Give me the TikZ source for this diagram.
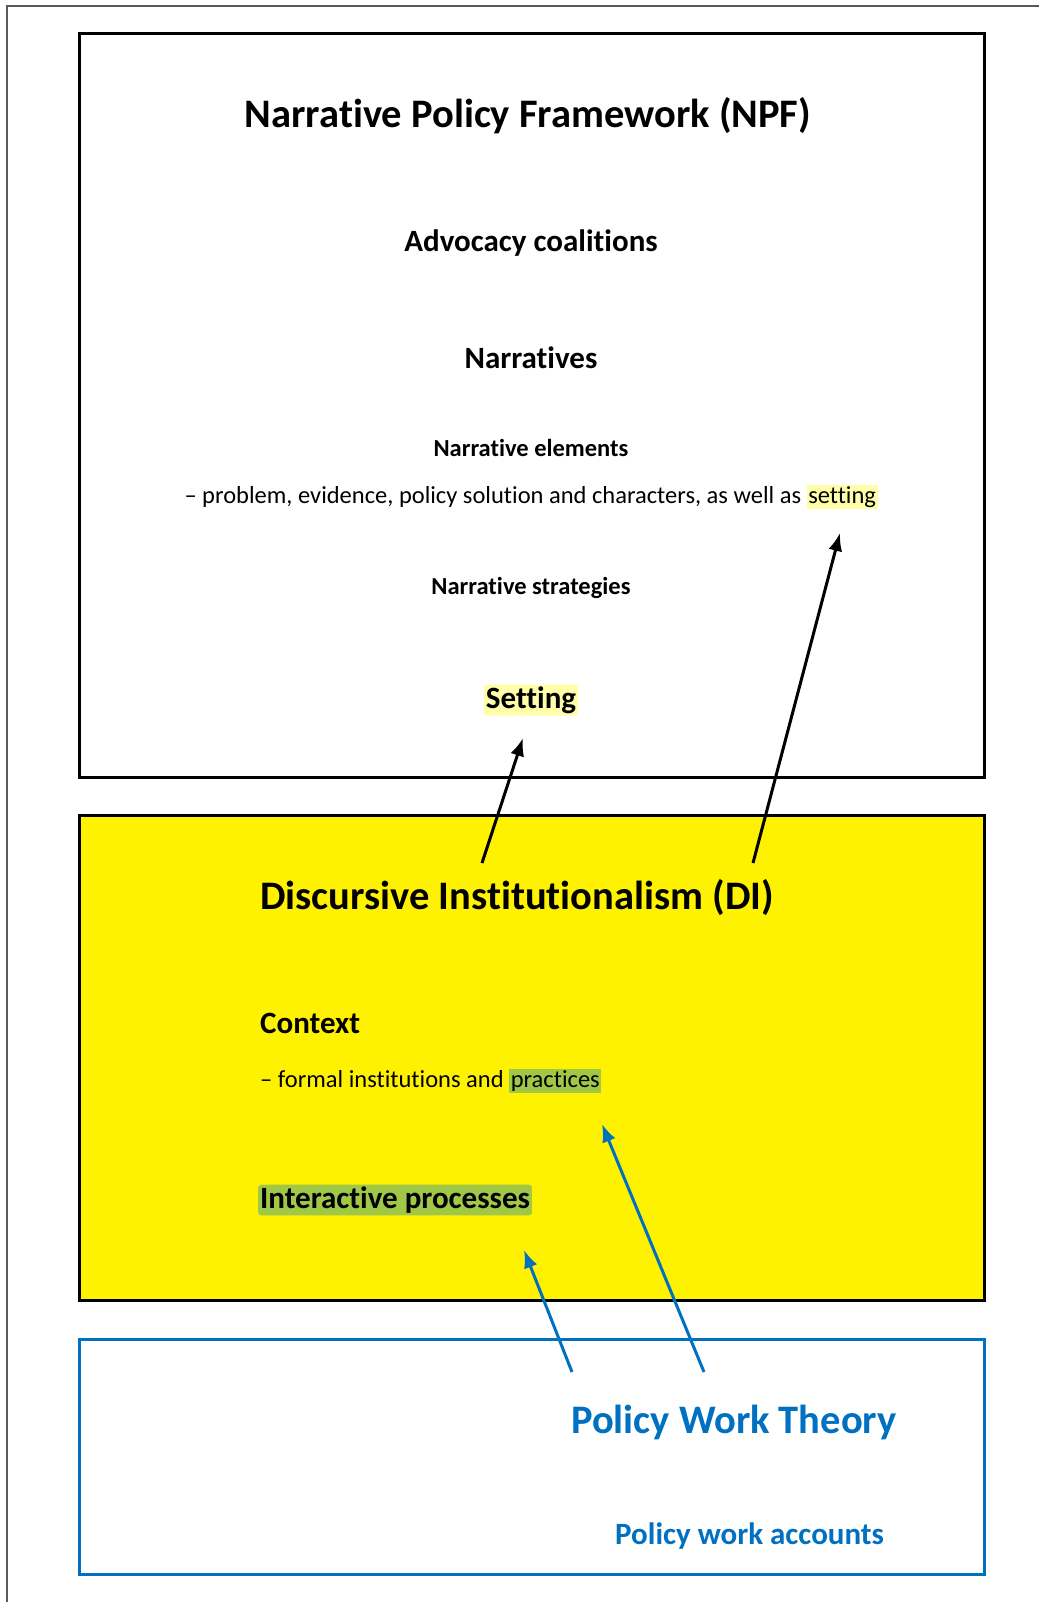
\documentclass[tikz,border=0pt]{standalone}
\usepackage{fontspec}
\setmainfont[Ligatures=NoCommon]{Carlito}
\usetikzlibrary{calc,arrows.meta}
\definecolor{pwblue}{RGB}{0,112,192}
\definecolor{glowyellow}{RGB}{255,255,170}
\definecolor{glowgreen}{RGB}{160,200,70}
\newcommand{\hlword}[2]{{\setlength{\fboxsep}{1.5pt}\colorbox{#1}{#2}}}
\newcommand{\fbig}{\fontsize{40.5}{48}\selectfont\bfseries}
\newcommand{\fmid}{\fontsize{31}{37}\selectfont\bfseries}
\newcommand{\fsml}{\fontsize{24.5}{29}\selectfont}

\begin{document}
\begin{tikzpicture}[x=1pt,y=-1pt,inner sep=0pt]
\useasboundingbox (0,0) rectangle (1039,1602);
\draw[black!65, line width=1.5pt] (7,1602) -- (7,6) -- (1039,6);

% the three boxes
\draw[line width=3pt] (79,34) rectangle (984,777);
\draw[line width=3pt, fill=yellow] (79,815) rectangle (984,1300);
\draw[line width=3pt, draw=pwblue] (79,1339) rectangle (984,1574);

% NPF
\node (npf) at (528,116) {\fbig Narrative Policy Framework (NPF)};
\node (adv) at (531,243) {\fmid Advocacy coalitions};
\node (nar) at (531,358) {\fmid Narratives};
\node (elem) at (531,448) {\fsml\bfseries Narrative elements};
\node (prob) at (531,497) {\fsml -- problem, evidence, policy solution and characters, as well as \hlword{glowyellow}{setting}};
\node (strat) at (531,588) {\fsml\bfseries Narrative strategies};
\node[fill=glowyellow, inner sep=2pt, rounded corners=3pt] (set) at (531,700) {\fmid Setting};

% DI
\node[anchor=west] (di) at (260,898) {\fbig Discursive Institutionalism (DI)};
\node[anchor=west] (ctx) at (260,1023) {\fmid Context};
\node[anchor=west] (form) at (260,1081) {\fsml -- formal institutions and \hlword{glowgreen}{practices}};
\node[anchor=west, fill=glowgreen, inner sep=2pt, rounded corners=3pt] (inter) at (258,1200) {\fmid Interactive processes};

% PWT
\node[anchor=west, text=pwblue] (pwt) at (571,1422) {\fbig Policy Work Theory};
\node[anchor=west, text=pwblue] (acc) at (615,1536) {\fmid Policy work accounts};

% arrows
\coordinate (a1) at (482,863); \coordinate (b1) at (523,738);
\coordinate (a2) at (753,863); \coordinate (b2) at (840,533);
\coordinate (a3) at (572,1372); \coordinate (b3) at (524,1250);
\coordinate (a4) at (704,1372); \coordinate (b4) at (602,1124);
\tikzset{conn/.style={line width=3pt, -{Latex[length=18pt,width=14pt]}}}
\draw[conn] (a1) -- (b1);
\draw[conn] (a2) -- (b2);
\draw[conn, pwblue] (a3) -- (b3);
\draw[conn, pwblue] (a4) -- (b4);
\end{tikzpicture}
\end{document}
